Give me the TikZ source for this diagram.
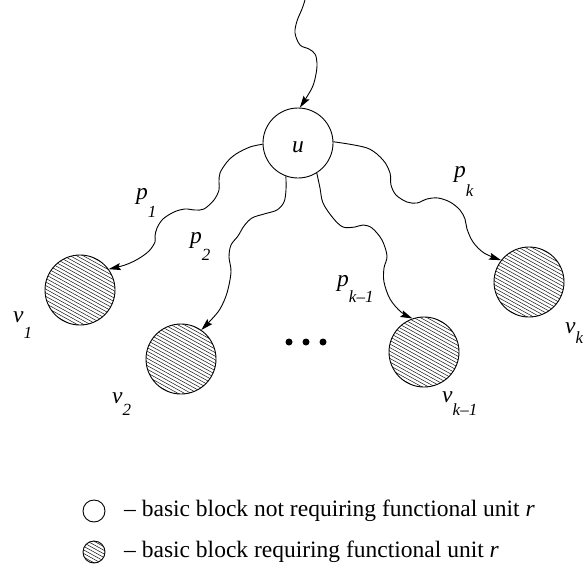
\documentclass[tikz,border=0pt]{standalone}
\usepackage{fontspec}
\setmainfont{Liberation Serif}
\usetikzlibrary{arrows.meta}
\newcommand\mainsize{\fontsize{23.5}{24}\selectfont}
\newcommand\subsize{\fontsize{17}{18}\selectfont}
% italic letter with a lowered index set beside it
\newcommand\sublab[3][15pt]{\mainsize\textit{#2}\raisebox{-#1}{\subsize\textit{#3}}}
\begin{document}
\begin{tikzpicture}[x=1pt,y=-1pt,
  wire/.style={line width=0.9pt,-{Stealth[length=12pt,width=7pt,inset=2pt]}},
  plain/.style={circle,draw,line width=0.9pt,minimum size=70pt,inner sep=0pt},
  hatched/.style={plain,path picture={
      \foreach \k in {-13,...,13}
        \draw[line width=0.45pt]
          ([shift={(-60,\k*3.6-33)}]path picture bounding box.center) -- ++(120,66);}},
  small/.style={minimum size=22pt},
  lbl/.style={inner sep=0pt,anchor=base west},
  dot/.style={circle,fill,inner sep=0pt,minimum size=7pt}]

\useasboundingbox (0,0) rectangle (583,578);

% blocks
\node[plain] (u) at (298,143) {};
\node[lbl] (ulab) at (292,152) {\mainsize\textit{u}};
\node[hatched] (v1) at (80,290) {};
\node[hatched] (v2) at (181,359) {};
\node[hatched] (vk1) at (424,352) {};
\node[hatched] (vk) at (529,282) {};

% ellipsis between the successors
\node[dot] (d1) at (289,342) {};
\node[dot] (d2) at (306,342) {};
\node[dot] (d3) at (323,342) {};

% incoming path
\coordinate (src) at (305,0);
\draw[wire] plot[smooth,tension=0.55] coordinates {(src) (302,9) (297,21) (295,33) (300,45) (309,49) (315,54) (317,63) (316,74) (312,88) (u.87)};

% paths to the successors
\draw[wire] plot[smooth,tension=0.55] coordinates {(u.182) (250,147) (236,154) (227,162) (220,173) (219,182) (219,190) (214,200) (204,209) (195,210) (185,209) (174,212) (163,219) (157,228) (155,236) (155,242) (149,251) (138,259) (125,265) (v1.36)};
\draw[wire] plot[smooth,tension=0.55] coordinates {(u.250) (286,190) (284,202) (277,210) (264,214) (252,218) (244,226) (238,236) (231,245) (229,257) (231,272) (227,293) (220,309) (211,320) (v2.55)};
\draw[wire] plot[smooth,tension=0.55] coordinates {(u.302) (320,188) (323,203) (333,218) (343,227) (355,227) (363,225) (372,228) (382,240) (387,256) (384,268) (384,282) (390,299) (401,312) (vk1.109)};
\draw[wire] plot[smooth,tension=0.55] coordinates {(u.2) (367,148) (383,160) (390,173) (391,185) (396,195) (407,202) (417,203) (427,199) (438,198) (450,202) (460,210) (465,219) (467,229) (473,242) (484,253) (vk.142)};

% path labels
\node[lbl] (p1) at (136,199) {\sublab[18pt]{p}{1}};
\node[lbl] (p2) at (190,243) {\sublab[17pt]{p}{2}};
\node[lbl] (pk1) at (337,286) {\sublab[16pt]{p}{k\/–1}};
\node[lbl] (pk) at (454,177) {\sublab[19pt]{p}{k}};

% block labels
\node[lbl] (lv1) at (13,322) {\sublab[16pt]{v}{1}};
\node[lbl] (lv2) at (112,403) {\sublab[12pt]{v}{2}};
\node[lbl] (lvk1) at (442,402) {\sublab[13pt]{v}{k\/–1}};
\node[lbl] (lvk) at (565,333) {\sublab[10pt]{v}{k}};

% legend
\node[plain,small] (key1) at (94,511) {};
\node[hatched,small] (key2) at (94,552) {};
\node[lbl] (txt1) at (124,516) {\mainsize – basic block not requiring functional unit \textit{r}};
\node[lbl] (txt2) at (124,557) {\mainsize – basic block requiring functional unit \textit{r}};
\end{tikzpicture}
\end{document}
